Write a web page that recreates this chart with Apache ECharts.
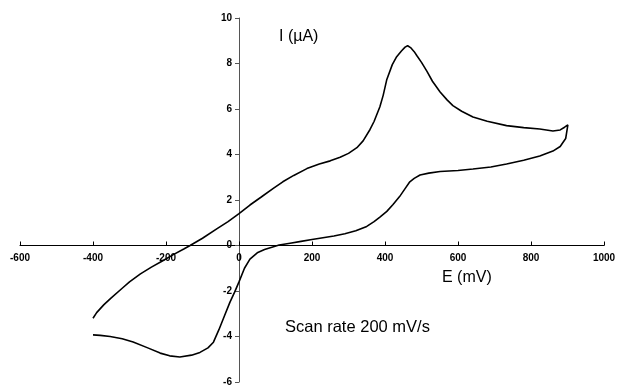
<!DOCTYPE html>
<html>
<head>
<meta charset="utf-8">
<script src="https://cdn.jsdelivr.net/npm/echarts@6/dist/echarts.min.js"></script>
<style>html,body{margin:0;padding:0;background:#fff}#c{width:621px;height:386px}</style>
</head>
<body>
<div id="c"></div>
<script>
// Forward (anodic) scan
const forwardE = [-400,-390,-370,-350,-320,-300,-270,-240,-210,-180,-150,-134,-100,-60,-30,0,30,60,93,120,150,186,220,250,277,300,323,340,359,370,386,395,405,420,432,445,455,462,470,480,487,500,515,530,551,570,586,610,641,680,733,780,824,860,880,892,901];
const forwardI = [-3.2,-2.95,-2.6,-2.3,-1.88,-1.6,-1.25,-0.95,-0.68,-0.4,-0.14,0,0.32,0.74,1.05,1.4,1.78,2.12,2.5,2.8,3.08,3.38,3.58,3.72,3.88,4.05,4.3,4.6,5.1,5.45,6.1,6.6,7.3,7.95,8.3,8.55,8.72,8.78,8.7,8.52,8.35,8.05,7.65,7.22,6.75,6.4,6.15,5.9,5.65,5.46,5.27,5.18,5.12,5.03,5.08,5.2,5.3];
// Reverse (cathodic) scan
const reverseE = [901,895,880,860,824,780,733,690,641,600,551,520,496,480,468,455,440,422,405,386,370,350,320,290,260,230,200,170,140,110,90,70,50,30,15,0,-12,-25,-40,-55,-70,-85,-107,-130,-162,-190,-216,-250,-290,-320,-353,-380,-400];
const reverseI = [5.3,4.7,4.35,4.15,3.93,3.75,3.58,3.45,3.36,3.3,3.25,3.18,3.1,2.95,2.8,2.5,2.15,1.8,1.5,1.25,1.05,0.84,0.65,0.52,0.42,0.34,0.26,0.18,0.1,0.02,-0.08,-0.18,-0.32,-0.6,-1.0,-1.6,-2.05,-2.5,-3.1,-3.7,-4.25,-4.5,-4.7,-4.82,-4.9,-4.85,-4.73,-4.5,-4.24,-4.1,-4.0,-3.95,-3.93];
const xTicks = {min:-600, max:1000, step:200};
const yTicks = {min:-6, max:10, step:2};
const yTitle = 'I (\u00b5A)';
const xTitle = 'E (mV)';
const note = 'Scan rate 200 mV/s';

const curve = forwardE.map((e,i)=>[e,forwardI[i]]).concat(reverseE.map((e,i)=>[e,reverseI[i]]));

const chart = echarts.init(document.getElementById('c'));
const labelStyle = {fontFamily:'Liberation Sans', fontSize:10, fontWeight:'bold', color:'#000', formatter:v=>String(v)};
const grid = {left:20,right:17,top:18,bottom:4,containLabel:false,outerBoundsMode:'none'};
const option = {
  animation:false,
  grid:grid,
  xAxis:{type:'value',min:xTicks.min,max:xTicks.max,interval:xTicks.step,position:'bottom',offset:0,
    axisLine:{show:true,onZero:false,lineStyle:{color:'#000',width:1}},
    axisTick:{show:true,inside:true,length:4,lineStyle:{color:'#000'}},
    axisLabel:Object.assign({margin:8,showMinLabel:true,showMaxLabel:true},labelStyle),
    splitLine:{show:false}},
  yAxis:{type:'value',min:yTicks.min,max:yTicks.max,interval:yTicks.step,position:'left',offset:0,
    axisLine:{show:true,onZero:false,lineStyle:{color:'#555',width:1}},
    axisTick:{show:true,inside:false,length:4,lineStyle:{color:'#555'}},
    axisLabel:Object.assign({margin:7,showMinLabel:true,showMaxLabel:true},labelStyle),
    splitLine:{show:false}},
  series:[{type:'line',data:curve,showSymbol:false,smooth:false,
    lineStyle:{color:'#000',width:1.6},z:3}],
  graphic:[
    {type:'text',left:279,top:29,style:{text:yTitle,font:'16px "Liberation Sans"',fill:'#000'}},
    {type:'text',left:442,top:270,style:{text:xTitle,font:'16px "Liberation Sans"',fill:'#000'}},
    {type:'text',left:285,top:319,style:{text:note,font:'16.5px "Liberation Sans"',fill:'#000'}}
  ]
};
chart.setOption(option);
// Move both axes (with their labels) so they cross at the origin
const H = 386;
for (let k = 0; k < 3; k++) {
  const origin = chart.convertToPixel({gridIndex:0},[0,0]);
  const corner = chart.convertToPixel({gridIndex:0},[xTicks.min,yTicks.min]);
  chart.setOption({
    xAxis:{offset:-(corner[1] - origin[1])},
    yAxis:{offset:-(origin[0] - corner[0])}
  });
}
</script>
</body>
</html>
